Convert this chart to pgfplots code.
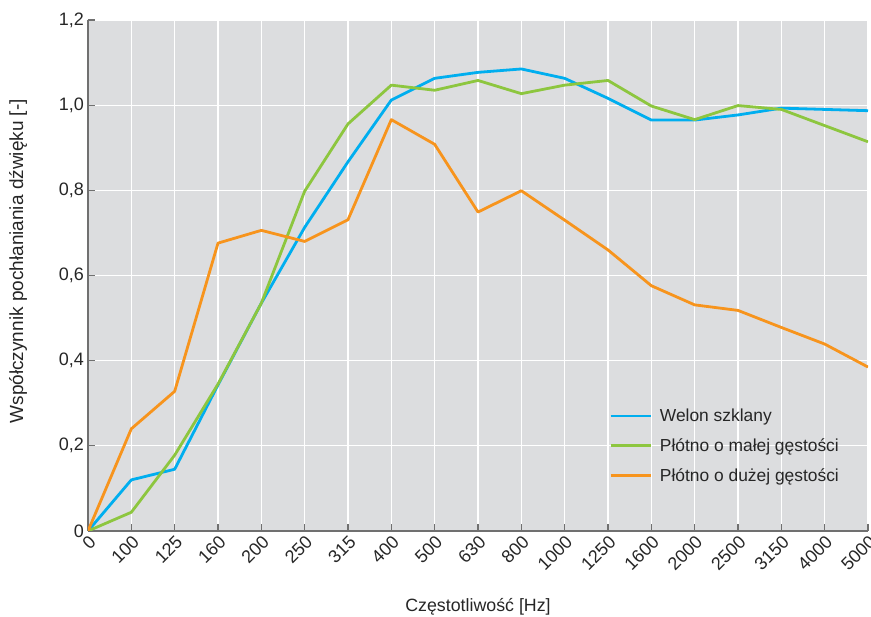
\documentclass[border=0pt]{standalone}
\usepackage{fontspec}
\setmainfont{Liberation Sans}
\usepackage{pgfplots}
\pgfplotsset{compat=1.18}
\definecolor{cblue}{HTML}{00AEEF}
\definecolor{cgreen}{HTML}{8DC63F}
\definecolor{corange}{HTML}{F7941D}
\definecolor{bg}{HTML}{DCDDDF}
\definecolor{axc}{HTML}{707070}
\pgfplotstableread{
x y
0 0
1 0.12
2 0.145
3 0.343
4 0.535
5 0.713
6 0.867
7 1.012
8 1.063
9 1.077
10 1.085
11 1.063
12 1.016
13 0.965
14 0.965
15 0.977
16 0.993
17 0.990
18 0.987
}\welon
\pgfplotstableread{
x y
0 0
1 0.044
2 0.178
3 0.345
4 0.535
5 0.798
6 0.956
7 1.047
8 1.035
9 1.058
10 1.027
11 1.047
12 1.058
13 0.998
14 0.966
15 0.999
16 0.990
17 0.952
18 0.914
}\malej
\pgfplotstableread{
x y
0 0
1 0.240
2 0.328
3 0.676
4 0.706
5 0.680
6 0.731
7 0.966
8 0.908
9 0.749
10 0.799
11 0.730
12 0.660
13 0.576
14 0.531
15 0.518
16 0.478
17 0.439
18 0.385
}\duzej
\begin{document}
\begin{tikzpicture}
\begin{axis}[
  scale only axis, width=780pt, height=511pt,
  xmin=0, xmax=18, ymin=0, ymax=1.2,
  xtick={0,...,18},
  xticklabels={0,100,125,160,200,250,315,400,500,630,800,1000,1250,1600,2000,2500,3150,4000,5000},
  ytick={0,0.2,0.4,0.6,0.8,1.0,1.2},
  yticklabels={0,{0,2},{0,4},{0,6},{0,8},{1,0},{1,2}},
  axis x line*=bottom, axis y line*=left,
  axis line style={axc, line width=1.6pt, -},
  tick align=inside, major tick length=7pt,
  tick style={axc, line width=1.2pt},
  grid=major, grid style={white, line width=1.3pt},
  axis background/.style={fill=bg},
  ticklabel style={font=\fontsize{18}{20}\selectfont, text=black!85},
  xticklabel style={rotate=45, anchor=north east, inner sep=2pt},
  yticklabel style={inner sep=4pt},
  xlabel={Częstotliwość [Hz]},
  ylabel={Współczynnik pochłaniania dźwięku [-]},
  xlabel style={font=\fontsize{17.8}{20}\selectfont, text=black!85, at={(axis description cs:0.5,-0.149)}, anchor=center},
  ylabel style={font=\fontsize{19}{20}\selectfont, text=black!85, at={(axis description cs:-0.0897,0.528)}, anchor=center},
  legend style={draw=none, fill=none, at={(axis description cs:0.664,0.247)}, anchor=north west,
    font=\fontsize{17.4}{20}\selectfont, row sep=11.5pt, text=black!85},
  legend cell align=left,
  legend image code/.code={\draw[#1] (0pt,0pt) -- (40pt,0pt); \path (46pt,0pt);},
  every axis plot/.append style={line width=2.8pt, line join=round},
]
\addplot[cblue] table[x=x,y=y] {\welon};
\addlegendentry{Welon szklany}
\addplot[cgreen] table[x=x,y=y] {\malej};
\addlegendentry{Płótno o małej gęstości}
\addplot[corange] table[x=x,y=y] {\duzej};
\addlegendentry{Płótno o dużej gęstości}
\coordinate (ll) at (rel axis cs:0,0);
\coordinate (ur) at (rel axis cs:1,1);
\end{axis}
\pgfresetboundingbox
\path ([shift={(-88pt,-86pt)}]ll) rectangle ([shift={(3pt,20pt)}]ur);
\end{tikzpicture}
\end{document}
